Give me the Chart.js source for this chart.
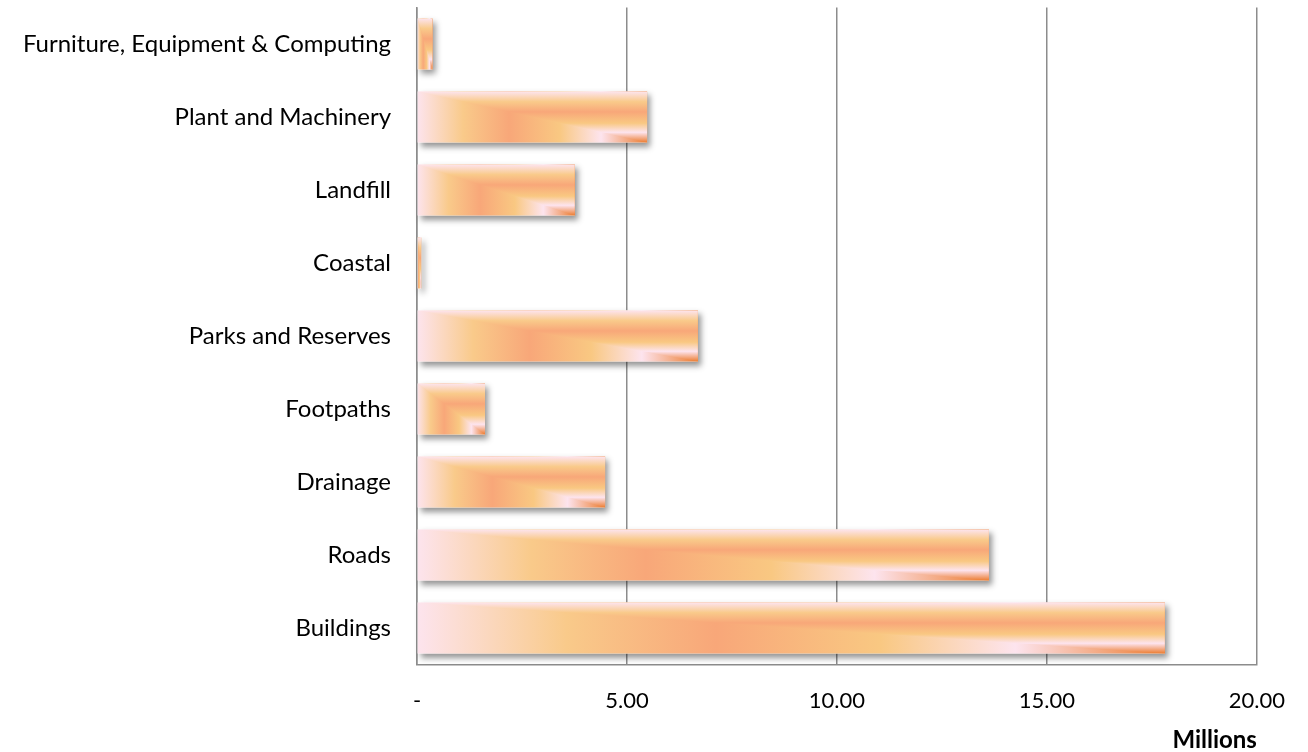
<!DOCTYPE html>
<html>
<head>
<meta charset="utf-8">
<script src="https://cdn.jsdelivr.net/npm/chart.js@4.4.1/dist/chart.umd.min.js"></script>
<style>
  html, body { margin: 0; padding: 0; background: #ffffff; }
  #wrap { width: 1308px; height: 752px; position: relative; }
</style>
</head>
<body>
<div id="wrap"><canvas id="chart"></canvas></div>
<script>
// Asset classes (top to bottom) and their values in millions
const categories = [
  'Furniture, Equipment & Computing',
  'Plant and Machinery',
  'Landfill',
  'Coastal',
  'Parks and Reserves',
  'Footpaths',
  'Drainage',
  'Roads',
  'Buildings'
];
const valuesMillions = [0.37, 5.48, 3.76, 0.10, 6.69, 1.62, 4.48, 13.62, 17.81];

// Value axis ticks
const tickValues = [0, 5, 10, 15, 20];
const tickLabels = ['-', '5.00', '10.00', '15.00', '20.00'];

// Colour ramp from the bottom-right corner (0) to the far edges (1)
const rampStops = [
  [0.00, '#ec7c30'],
  [0.20, '#fde4ee'],
  [0.38, '#f9c882'],
  [0.60, '#f8a779'],
  [0.80, '#f9ca8a'],
  [1.00, '#fde4ee']
];

function applyStops(grad) {
  rampStops.forEach(([o, c]) => grad.addColorStop(o, c));
  return grad;
}

// Horizontal part of the rectangular path gradient (drawn by Chart.js itself)
function barHorizontalFill(ctx) {
  const chart = ctx.chart;
  if (!chart.chartArea || ctx.raw == null) return '#f8a779';
  const xs = chart.scales.x;
  const xEnd = xs.getPixelForValue(ctx.raw);
  const xStart = xs.getPixelForValue(0);
  const g = chart.ctx.createLinearGradient(xEnd, 0, xStart, 0);
  return applyStops(g);
}

// Soft shadow under each bar and the vertical half of the path gradient on top
const barShading = {
  id: 'barShading',
  beforeDatasetsDraw(chart) {
    const ctx = chart.ctx;
    const meta = chart.getDatasetMeta(0);
    ctx.save();
    ctx.shadowColor = 'rgba(0,0,0,0.42)';
    ctx.shadowBlur = 6;
    ctx.shadowOffsetX = 3;
    ctx.shadowOffsetY = 4;
    ctx.fillStyle = '#ffffff';
    meta.data.forEach(el => {
      const p = el.getProps(['x', 'y', 'base', 'height'], true);
      const left = Math.min(p.x, p.base), right = Math.max(p.x, p.base);
      ctx.fillRect(left, p.y - p.height / 2, right - left, p.height);
    });
    ctx.restore();
  },
  afterDatasetsDraw(chart) {
    const ctx = chart.ctx;
    const meta = chart.getDatasetMeta(0);
    meta.data.forEach(el => {
      const p = el.getProps(['x', 'y', 'base', 'height'], true);
      const left = Math.min(p.x, p.base), right = Math.max(p.x, p.base);
      const top = p.y - p.height / 2, bottom = p.y + p.height / 2;
      if (right - left < 0.5) return;
      ctx.save();
      ctx.beginPath();
      ctx.moveTo(left, top);
      ctx.lineTo(right, top);
      ctx.lineTo(right, bottom);
      ctx.closePath();
      ctx.clip();
      ctx.fillStyle = applyStops(ctx.createLinearGradient(0, bottom, 0, top));
      ctx.fillRect(left, top, right - left, bottom - top);
      ctx.restore();
    });
  }
};

const gridGrey = '#8c8c8c';

new Chart(document.getElementById('chart'), {
  type: 'bar',
  data: {
    labels: categories,
    datasets: [{
      data: valuesMillions,
      backgroundColor: barHorizontalFill,
      borderWidth: 0,
      categoryPercentage: 0.7,
      barPercentage: 1.0
    }]
  },
  options: {
    indexAxis: 'y',
    responsive: true,
    maintainAspectRatio: false,
    animation: false,
    layout: { padding: { top: 7.5, right: 51, left: 0, bottom: 0 } },
    plugins: {
      legend: { display: false },
      tooltip: { enabled: false }
    },
    scales: {
      x: {
        type: 'linear',
        min: 0,
        max: 20,
        afterBuildTicks(scale) {
          scale.ticks = tickValues.map(v => ({ value: v }));
        },
        afterFit(scale) { scale.height = 87.5; },
        grid: { color: gridGrey, lineWidth: 1.5, drawTicks: false },
        border: { display: true, color: gridGrey, width: 1.5 },
        ticks: {
          padding: 23,
          color: '#000000',
          font: { family: 'Lato', size: 22 },
          maxRotation: 0,
          callback(value) {
            const i = tickValues.indexOf(value);
            return i >= 0 ? tickLabels[i] : '';
          }
        },
        title: {
          display: true,
          text: 'Millions',
          align: 'end',
          color: '#000000',
          font: { family: 'Lato', size: 24, weight: 'bold', lineHeight: 1 },
          padding: { top: 0, bottom: 0 }
        }
      },
      y: {
        type: 'category',
        afterFit(scale) {
          scale.width = 417;
          scale.paddingTop = 0;
          scale.paddingBottom = 0;
        },
        grid: { display: false, drawTicks: false },
        border: { display: true, color: gridGrey, width: 1.5 },
        ticks: {
          padding: 26,
          color: '#000000',
          font: { family: 'Lato', size: 24 }
        }
      }
    }
  },
  plugins: [barShading]
});
</script>
</body>
</html>
